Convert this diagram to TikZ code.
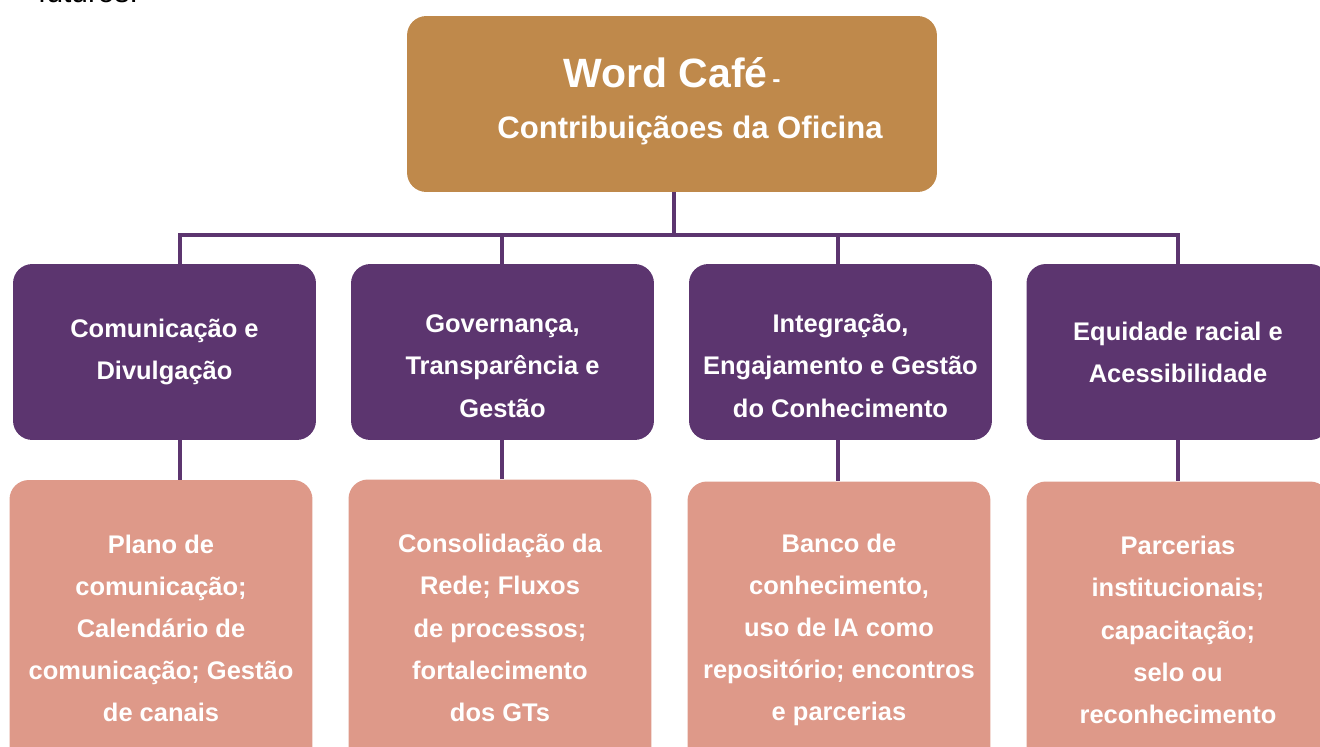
\documentclass[tikz,border=0pt]{standalone}
\usepackage{fontspec}
\setmainfont{Liberation Sans}
\usepackage{tikz}
\usetikzlibrary{calc,positioning}
\definecolor{cafe}{HTML}{BF894B}
\definecolor{roxo}{HTML}{5C356F}
\definecolor{salmao}{HTML}{DE9989}
\tikzset{
    every node/.append style={font=\bfseries},
    caixa/.style={rounded corners=11pt, minimum width=6.06cm, text=white, align=center,
                  font=\bfseries\fontsize{14.5}{24}\selectfont},
    tema/.style={caixa, fill=roxo, minimum height=3.52cm},   % purple row
    acao/.style={caixa, fill=salmao, minimum height=5.94cm}, % salmon row
    ligacao/.style={draw=roxo, line width=2.8pt}
}

\begin{document}
\begin{tikzpicture}[x=0.02cm,y=-0.02cm]
                \useasboundingbox (0,0) rectangle (1320,747);
                \node[anchor=base west,font=\fontsize{17}{20}\selectfont] (resto) at (32,3) {futuros.};
                % topo
                \node[fill=cafe,rounded corners=11pt,minimum width=10.6cm,minimum height=3.52cm] (topo) at (672,104) {};
                \node[anchor=base,text=white] (titulo) at (672,88) {{\fontsize{23.3}{28}\selectfont Word Café}\ {\fontsize{14}{16}\selectfont -}};
                \node[anchor=base,text=white,font=\bfseries\fontsize{17.7}{21}\selectfont] (subtitulo) at (690,138) {Contribuiçãoes da Oficina};
                % temas
                \node[tema] (p1) at (164.5,352) {Comunicação e\\Divulgação};
                \node[tema,text height=74pt,text depth=0pt] (p2) at (502.5,352) {Governança,\\Transparência e\\Gestão};
                \node[tema,text height=74pt,text depth=0pt] (p3) at (840.5,352) {Integração,\\Engajamento e Gestão\\do Conhecimento};
                \node[tema] (p4) at (1178,352) {Equidade racial e\\Acessibilidade};
                % acoes
                \node[acao] (k1) at (161,628.5) {Plano de\\comunicação;\\Calendário de\\comunicação; Gestão\\de canais};
                \node[acao] (k2) at (500,628) {Consolidação da\\Rede; Fluxos\\de processos;\\fortalecimento\\dos GTs};
                \node[acao] (k3) at (839,630) {Banco de\\conhecimento,\\uso de IA como\\repositório; encontros\\e parcerias};
                \node[acao] (k4) at (1178,630) {Parcerias\\institucionais;\\capacitação;\\selo ou\\reconhecimento};
                % ligacoes
                \coordinate (bus) at (674,235);
                \coordinate (d1) at (180,235);
                \coordinate (d2) at (502,235);
                \coordinate (d3) at (838,235);
                \coordinate (d4) at (1178,235);
                \draw[ligacao] (topo.south -| bus) -- (bus);
                \draw[ligacao,line cap=rect] (d1) -- (d4);
                \foreach \i in {1,...,4}{
                    \draw[ligacao] (d\i) -- (p\i.north -| d\i);
                    \draw[ligacao] (p\i.south -| d\i) -- (k\i.north -| d\i);
                }

            \end{tikzpicture}
\end{document}
